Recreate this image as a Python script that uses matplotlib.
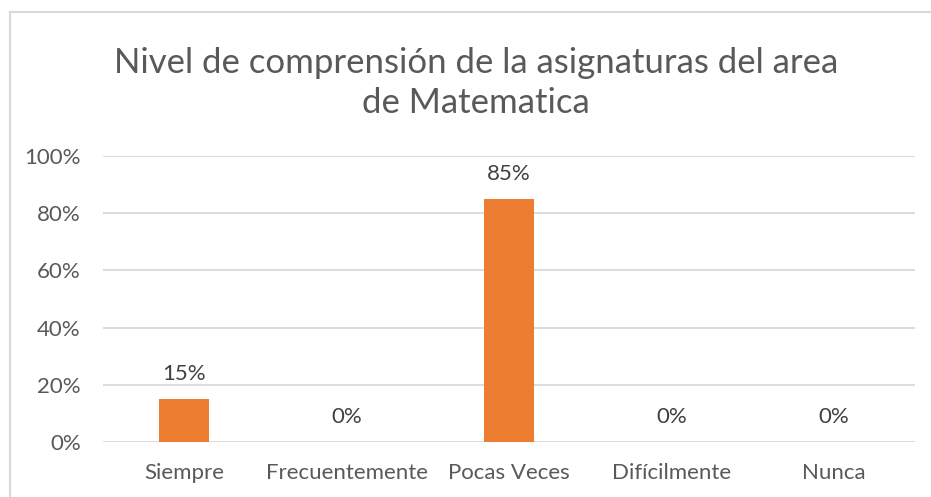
import matplotlib.pyplot as plt
from matplotlib.patches import Rectangle
import numpy as np

# data
categories = ['Siempre', 'Frecuentemente', 'Pocas Veces', 'Difícilmente', 'Nunca']
values = [0.15, 0.0, 0.85, 0.0, 0.0]
yticks = [0, 0.2, 0.4, 0.6, 0.8, 1.0]

plt.rcParams['font.family'] = ['Lato', 'DejaVu Sans']
W, H = 931, 497
fig = plt.figure(figsize=(W / 100, H / 100), dpi=100)

# chart border (cut by the image edges)
fig.patches.append(Rectangle((10 / W, -0.1), 1.1, 1 - 12 / H + 0.1,
                             transform=fig.transFigure, fill=False,
                             edgecolor='#d9d9d9', linewidth=1.5))

ax = fig.add_axes([103 / W, 1 - 442 / H, (915 - 103) / W, (442 - 156) / H])
x = np.arange(len(categories))
ax.bar(x, values, width=0.31, color='#ed7d31', zorder=3)
for xi, v in zip(x, values):
    ax.annotate('{:.0%}'.format(v), (xi, v), xytext=(0, 11), textcoords='offset points',
                ha='center', va='bottom', fontsize=16, color='#404040')

ax.set_xlim(-0.5, len(categories) - 0.5)
ax.set_ylim(0, 1.0)
ax.set_yticks(yticks)
ax.set_yticklabels(['{:.0%}'.format(t) for t in yticks])
ax.set_xticks(x)
ax.set_xticklabels(categories)
ax.tick_params(axis='both', length=0, labelsize=16, labelcolor='#595959')
ax.tick_params(axis='y', pad=16)
ax.tick_params(axis='x', pad=15)
ax.grid(axis='y', color='#d9d9d9', linewidth=1.3, zorder=0)
for s in ax.spines.values():
    s.set_visible(False)

fig.text(476 / W, 1 - 83 / H, 'Nivel de comprensión de la asignaturas del area\nde Matematica',
         ha='center', va='center', fontsize=25, color='#595959', linespacing=1.33)

fig.savefig('out.png', dpi=100)
